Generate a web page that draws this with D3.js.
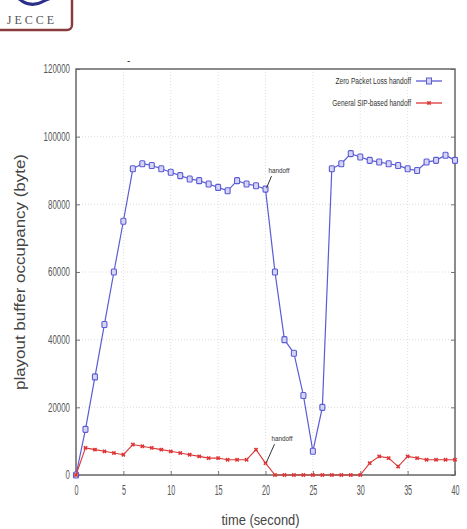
<!DOCTYPE html>
<html>
<head>
<meta charset="utf-8">
<script src="https://cdn.jsdelivr.net/npm/d3@7"></script>
<style>
    body { margin: 0; background: #fff; }
    svg { display: block; }
    .tick text { font-family: "Liberation Sans", sans-serif; fill: #555; }
</style>
</head>
<body>
<div id="chart"></div>
<script>
// time in seconds
let times = d3.range(0, 41);

let zeroLossValues = [0, 13500, 29000, 44500, 60000, 75000, 90500, 92000, 91500, 90500,
    89500, 88500, 87500, 87000, 86000, 85000, 84000, 87000, 86000, 85500,
    84500, 60000, 40000, 36000, 23500, 7000, 20000, 90500, 92000, 95000,
    94000, 93000, 92500, 92000, 91500, 90500, 90000, 92500, 93000, 94500, 93000];

let sipValues = [0, 8000, 7500, 7000, 6500, 6000, 9000, 8500, 8000, 7500,
    7000, 6500, 6000, 5500, 5000, 5000, 4500, 4500, 4500, 7500,
    3500, 0, 0, 0, 0, 0, 0, 0, 0, 0,
    0, 3500, 5500, 5000, 2500, 5500, 5000, 4500, 4500, 4500, 4500];

let seriesNames = ["Zero Packet Loss handoff", "General SIP-based handoff"];
let xTicks = [0, 5, 10, 15, 20, 25, 30, 35, 40];
let yTicks = [0, 20000, 40000, 60000, 80000, 100000, 120000];

let W = 467, H = 529;
let margin = {top: 69, right: 12, bottom: 54, left: 76};
let width = W - margin.left - margin.right;
let height = H - margin.top - margin.bottom;

let blue = "#5b5bd6", red = "#dd3535";

// squeeze text to look like the narrow font of the original
function narrow(sel, perChar) {
    sel.each(function () {
        let t = d3.select(this);
        t.attr("textLength", t.text().length * perChar)
            .attr("lengthAdjust", "spacingAndGlyphs");
    });
}

let svg = d3.select("#chart").append("svg")
    .attr("width", W)
    .attr("height", H);

// journal logo (cropped at the top-left corner)
let logo = svg.append("g");
logo.append("rect")
    .attr("x", -8).attr("y", -20)
    .attr("width", 80).attr("height", 50)
    .attr("rx", 5)
    .attr("fill", "#fff")
    .attr("stroke", "#8a3c3c")
    .attr("stroke-width", 2.5);
logo.append("path")
    .attr("d", "M18,-2 Q30,9 44,1 Q52,-3 56,-2")
    .attr("fill", "none")
    .attr("stroke", "#2b2f8a")
    .attr("stroke-width", 3);
logo.append("text")
    .attr("x", 32).attr("y", 24)
    .attr("text-anchor", "middle")
    .attr("font-family", "Liberation Serif, serif")
    .attr("font-size", 12)
    .attr("letter-spacing", 3)
    .attr("fill", "#555")
    .text("JECCE");

svg.append("text")
    .attr("x", 127).attr("y", 64)
    .attr("font-family", "sans-serif")
    .attr("font-size", 10)
    .attr("fill", "#333")
    .text("-");

let g = svg.append("g")
    .attr("transform", `translate(${margin.left}, ${margin.top})`);

let x = d3.scaleLinear().domain([0, 40]).range([0, width]);
let y = d3.scaleLinear().domain([0, 120000]).range([height, 0]);

// grid
g.append("g")
    .selectAll("line.vg")
    .data(xTicks.slice(1, -1))
    .enter().append("line")
    .attr("x1", d => x(d)).attr("x2", d => x(d))
    .attr("y1", 0).attr("y2", height)
    .attr("stroke", "#ddd")
    .attr("stroke-dasharray", "1,2");

g.append("g")
    .selectAll("line.hg")
    .data(yTicks.slice(1, -1))
    .enter().append("line")
    .attr("x1", 0).attr("x2", width)
    .attr("y1", d => y(d)).attr("y2", d => y(d))
    .attr("stroke", "#ddd")
    .attr("stroke-dasharray", "1,2");

// axes
let xAxis = d3.axisBottom(x).tickValues(xTicks).tickSize(-4).tickPadding(10);
let yAxis = d3.axisLeft(y).tickValues(yTicks).tickSize(-4).tickPadding(6).tickFormat(d3.format("d"));

g.append("g")
    .attr("transform", `translate(0, ${height})`)
    .call(xAxis)
    .call(a => a.selectAll("text").attr("font-size", 14).call(narrow, 4))
    .call(a => a.selectAll("line").attr("stroke", "#777"))
    .call(a => a.select(".domain").remove());

g.append("g")
    .call(yAxis)
    .call(a => a.selectAll("text").attr("font-size", 12).call(narrow, 4.4))
    .call(a => a.selectAll("line").attr("stroke", "#777"))
    .call(a => a.select(".domain").remove());

// right side ticks
g.append("g")
    .attr("transform", `translate(${width}, 0)`)
    .call(d3.axisRight(y).tickValues(yTicks).tickSize(-4).tickFormat(""))
    .call(a => a.selectAll("line").attr("stroke", "#777"))
    .call(a => a.select(".domain").remove());

// frame
g.append("rect")
    .attr("width", width).attr("height", height)
    .attr("fill", "none")
    .attr("stroke", "#666")
    .attr("stroke-width", 1.5);

let line = d3.line()
    .x((d, i) => x(times[i]))
    .y(d => y(d));

// zero packet loss series
g.append("path")
    .datum(zeroLossValues)
    .attr("d", line)
    .attr("fill", "none")
    .attr("stroke", blue)
    .attr("stroke-width", 1.2);

g.selectAll("rect.zl")
    .data(zeroLossValues)
    .enter().append("rect")
    .attr("class", "zl")
    .attr("x", (d, i) => x(times[i]) - 2.5)
    .attr("y", d => y(d) - 3)
    .attr("width", 5).attr("height", 6)
    .attr("rx", 1)
    .attr("fill", "#d4d4f4")
    .attr("stroke", blue)
    .attr("stroke-width", 1.1);

// general SIP series
g.append("path")
    .datum(sipValues)
    .attr("d", line)
    .attr("fill", "none")
    .attr("stroke", red)
    .attr("stroke-width", 1.1);

let star = d3.symbol().type(d3.symbolCross).size(12);
g.selectAll("path.sip")
    .data(sipValues)
    .enter().append("path")
    .attr("class", "sip")
    .attr("transform", (d, i) => `translate(${x(times[i])}, ${y(d)}) rotate(45)`)
    .attr("d", star)
    .attr("fill", red);

// handoff annotations
let notes = [
    {t: 20, v: zeroLossValues[20], dx: 2, dy: -16},
    {t: 20, v: sipValues[20], dx: 5, dy: -22}
];
notes.forEach(n => {
    let px = x(n.t), py = y(n.v);
    g.append("line")
        .attr("x1", px + 1).attr("y1", py - 1)
        .attr("x2", px + n.dx + 4).attr("y2", py + n.dy + 3)
        .attr("stroke", "#333")
        .attr("stroke-width", 1);
    g.append("text")
        .attr("x", px + n.dx + 1).attr("y", py + n.dy)
        .attr("font-family", "Liberation Sans, sans-serif")
        .attr("font-size", 8)
        .attr("fill", "#333")
        .text("handoff")
        .call(narrow, 3);
});

// legend
let legend = g.append("g")
    .attr("transform", `translate(${width - 13}, 0)`);
let leg = legend.selectAll("g")
    .data(seriesNames)
    .enter().append("g")
    .attr("transform", (d, i) => `translate(0, ${12 + i * 22})`);
leg.append("text")
    .attr("x", -31).attr("y", 3)
    .attr("text-anchor", "end")
    .attr("font-family", "Liberation Sans, sans-serif")
    .attr("font-size", 8.5)
    .attr("fill", "#333")
    .text(d => d)
    .call(narrow, 3.15);
leg.append("line")
    .attr("x1", -26).attr("x2", 0)
    .attr("stroke", (d, i) => i === 0 ? blue : red)
    .attr("stroke-width", 1.3);
leg.filter((d, i) => i === 0).append("rect")
    .attr("x", -15.5).attr("y", -3)
    .attr("width", 5).attr("height", 6)
    .attr("fill", "#d4d4f4")
    .attr("stroke", blue);
leg.filter((d, i) => i === 1).append("path")
    .attr("transform", "translate(-13, 0) rotate(45)")
    .attr("d", star)
    .attr("fill", red);

// axis titles
svg.append("text")
    .attr("x", margin.left + width / 2 - 5)
    .attr("y", H - 4)
    .attr("text-anchor", "middle")
    .attr("font-family", "Liberation Sans, sans-serif")
    .attr("font-size", 15)
    .attr("fill", "#444")
    .text("time (second)")
    .attr("textLength", 78)
    .attr("lengthAdjust", "spacingAndGlyphs");

svg.append("text")
    .attr("transform", `translate(25, ${margin.top + 203}) rotate(-90)`)
    .attr("text-anchor", "middle")
    .attr("font-family", "Liberation Sans, sans-serif")
    .attr("font-size", 15)
    .attr("fill", "#444")
    .text("playout buffer occupancy (byte)")
    .attr("textLength", 236)
    .attr("lengthAdjust", "spacingAndGlyphs");
</script>
</body>
</html>
